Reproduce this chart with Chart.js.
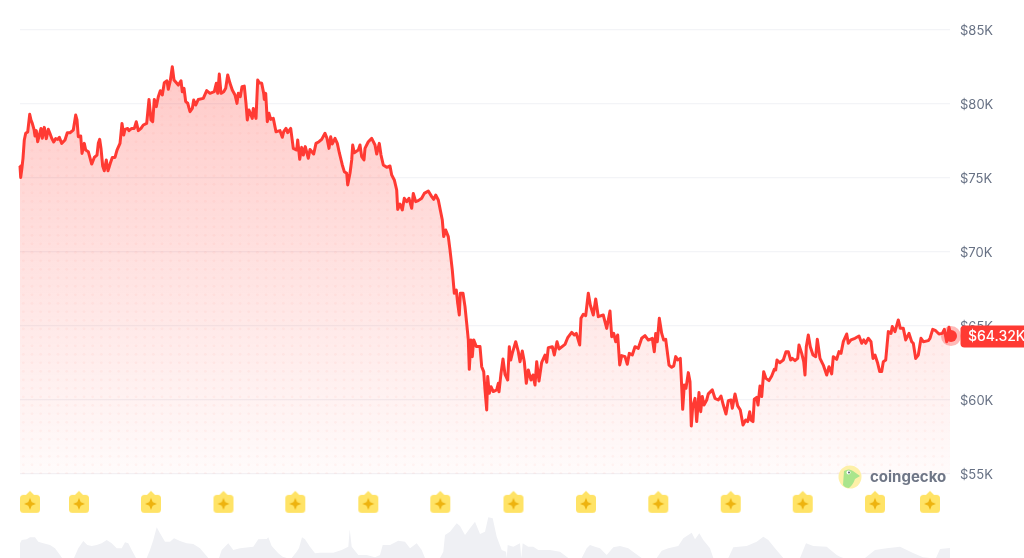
<!DOCTYPE html>
<html>
<head>
<meta charset="utf-8">
<style>html,body{margin:0;padding:0;background:#fff;overflow:hidden}canvas{display:block}</style>
<script src="https://cdn.jsdelivr.net/npm/chart.js@4"></script>
</head>
<body>
<canvas id="c" width="1024" height="558"></canvas>
<script>
const times = [
0,0.7,1.7,3,4.3,5.7,7.7,9.7,11,12.3,14,15,16.3,17.7,19.3,21,22.3,24.3,26.3,28.3,
29.7,31.7,33.7,35.7,37.7,39.3,41.7,45,47.3,50,53.3,55.7,57,58.3,60.7,62,64.3,65.7,68.3,71.7,
74.3,77,78.3,79.7,81,82.7,84.3,86.3,88,90.3,92.3,95,97,100,102,103.7,105,107.7,109,111.7,
114.3,116.3,118.3,121,123.3,126.7,129,131,132.7,134.3,136.3,138.3,140.3,142.3,144.3,147,148.3,150.3,152.3,154,158.3,
161,162.3,164,165.7,167.7,170,172.3,173.7,175.7,178.3,183.3,186.7,190,194.3,196.3,197.7,199.3,201,203.7,205.7,
207.7,210,212.3,215,217,218.3,220.3,222,224.3,226,227.3,229,232.3,233.3,236,237.7,239.3,241.7,243.7,244.3,
245.7,247.3,249,250.7,253.3,256,260,262.3,263.7,266,267.7,270.7,273.3,276.7,277.7,279.7,281.7,283.3,285.3,288.3,
290,293.7,296,299,301.7,305,307,309,310.7,312.3,315,317.3,319.3,
322.3,324.3,326.7,327.7,330,331.7,332.7,334.3,338.3,340,341.7,344,345,348.3,351.7,355,356.7,359.3,361,363.3,
366.7,370,371.7,374.3,376.7,377.7,380,382.3,384.3,386.7,389,391.7,393.3,395.7,398.3,401.7,404.3,408.3,411.7,413.7,
415.7,418.3,420.3,422.3,423.7,425.7,428.3,430,432.3,434.3,436.3,437.7,439.3,440.3,443,445,446.7,448.3,449.3,451,
452.3,453.7,456.3,460,461.7,463.7,465,466.7,467.7,469.3,471,473.3,476.7,478.3,479,
481,483,485,487.7,489.3,490.7,492.3,495.7,498.3,500,502.3,504.3,506.3,508.3,511,513,515,516.7,519,521.7,
525,526.7,528.3,532.3,534.3,537,539,545,547.7,551.7,554.3,556.3,559.7,561,563.3,565.7,568.3,570.3,573.3,575.7,
578.3,583.3,586.7,590,591.7,593.7,595.7,597.7,599.7,601.7,605,607.3,609.3,612.3,615,618.3,621.7,625,628.3,632.3,
634.3,635.7,637.3,639.3,
641.7,643.7,645.7,647.3,649,651.7,653.7,655.7,657.7,660.3,661.7,662.7,664.3,666,668.3,670,671.3,672.7,675,676.7,
679,680.7,682.3,684,686.7,688.3,692.3,695,698.3,701,703.3,706,708.3,711,712.3,715,717.7,720.3,723,725.7,
727.7,729.7,731,733,734.3,736.7,738,740,741.7,743.7,746,749,751.7,754.3,755.7,757,759.7,763.3,766,768.3,
770.7,772.3,775,777.7,779,781.7,783.7,785,786.3,788.3,790.3,793,795.7,797.3,
800,803.3,806.7,809,811.7,813.3,816.7,819,821,823.3,826.7,828.3,831,835,839,841.7,843.7,845.7,848.3,851,
853,855,857.7,859.7,861.7,863.3,865.7,868.3,871,872.3,875,878.3,880.3,883.3,885.7,889,891.7,893.3,895.7,898.3,
901,903.3,908.3,910,912.7,915.7,919,922.3,924.3,926.7,929,931
];
const prices = [
75.81,75.04,75.54,76.33,77.57,78.02,78.11,79.30,78.92,78.69,78.29,77.84,78.20,77.45,77.90,78.35,77.68,78.42,77.66,78.29,
78.06,77.68,77.43,77.66,77.61,77.75,77.34,77.57,78.06,78.06,78.24,79.25,78.92,77.79,77.84,76.66,77.34,76.89,76.78,75.94,
76.39,76.55,77.34,77.61,77.00,75.81,75.49,76.21,75.49,75.99,76.39,76.39,76.89,77.34,78.69,77.90,78.29,78.35,78.20,78.35,
78.35,78.80,78.20,78.35,78.58,78.69,80.31,78.92,78.80,80.31,79.82,80.49,80.90,80.61,81.44,81.57,80.99,81.57,82.52,81.62,81.28,
81.57,80.83,81.06,80.16,80.05,79.48,79.70,80.27,79.93,80.31,80.38,80.90,80.72,80.83,81.40,80.72,82.02,80.72,80.83,81.06,
81.96,81.40,80.94,80.61,80.04,80.72,80.49,81.17,81.21,80.04,78.92,79.59,79.03,79.70,79.03,81.62,81.44,81.40,80.72,80.31,
80.72,78.80,79.37,78.96,79.03,78.13,78.20,77.75,78.13,78.35,78.06,78.35,77.00,76.89,77.57,76.26,77.07,76.55,77.12,76.33,
76.93,76.62,77.34,77.45,77.61,78.02,77.68,77.00,77.79,77.30,77.68,77.34,76.71,
75.88,75.43,75.32,74.53,75.32,76.22,77.23,76.71,76.89,77.23,76.44,76.22,77.00,77.45,77.68,77.23,76.62,77.34,76.55,75.88,
75.72,75.81,75.20,74.87,74.19,72.88,73.24,72.84,73.63,73.40,73.63,72.95,73.96,73.40,73.47,73.63,73.96,74.12,73.74,73.56,
73.85,73.51,72.84,72.16,71.04,71.49,71.04,70.14,68.78,67.21,67.43,66.53,65.74,67.21,67.21,66.31,65.18,64.06,62.07,64.06,
62.93,64.06,63.61,63.61,62.25,61.92,60.68,59.33,61.58,60.45,60.90,60.57,60.68,61.13,60.55,
61.80,62.77,61.73,61.35,63.60,62.70,63.15,63.94,63.26,62.59,63.31,62.59,61.13,62.03,61.35,61.69,61.01,62.59,61.28,62.55,
63.04,62.55,63.54,63.60,63.04,63.94,63.45,63.76,64.21,64.57,64.39,64.50,63.72,65.52,65.79,65.70,67.21,66.42,65.74,66.82,
65.63,65.74,64.84,66.01,64.28,64.50,63.94,64.39,62.37,63.00,62.93,62.41,63.15,63.04,63.60,63.49,64.17,64.35,64.05,64.17,
63.26,64.50,63.94,65.52,
64.50,64.05,64.10,63.26,62.36,62.21,62.30,62.93,62.70,62.81,60.90,59.37,61.01,60.79,61.85,61.24,58.24,59.55,60.11,58.54,
60.50,59.21,60.23,59.66,60.00,60.41,60.68,60.11,60.00,60.27,59.66,59.05,59.95,60.00,59.44,60.41,59.60,59.32,58.31,58.65,
58.54,59.21,58.65,58.54,60.05,60.18,59.66,60.95,60.23,61.91,61.46,61.31,61.62,62.07,62.03,62.70,62.52,62.70,63.26,63.26,
62.70,62.81,62.66,62.81,63.72,63.15,62.59,61.69,63.60,64.39,63.60,63.04,62.93,64.10,
62.81,62.36,61.69,62.25,61.76,62.93,62.75,63.27,63.15,63.94,64.46,63.83,64.06,64.17,64.32,63.83,64.06,63.83,64.17,63.94,
62.81,63.04,62.48,61.92,61.92,62.59,62.70,64.62,64.50,64.96,64.62,65.41,64.84,64.84,64.06,64.50,63.94,63.83,62.81,63.04,
64.17,63.94,64.01,64.17,64.77,64.68,64.46,64.50,64.77,63.94,64.91,64.32
];
const volumeTimes = [
0,1.7,6.7,10,15,18.3,23.3,30,35,40,42,54,58.3,63.3,67.3,71.7,76.7,81.7,86.7,91.7,
96.7,101.7,105,108.3,111.7,116,126.7,130,133.3,136.7,140,145,150,154,160,166.7,173.3,180,188.3,199,
201.7,208.3,213.3,220,233.3,238.3,246.7,248.3,251.7,258.3,262.7,266.7,271.7,276.7,279,282,285,290,295,300,
313.3,321.7,328.3,329.7,331.7,338.3,346.7,355,360,362.7,370,378.3,385,390,396.7,401.7,405,420,423.3,425,
430,436.7,440,445,450,455,460,465,468.3,472.7,476.7,481.7,486,486.7,487.7,493.3,500,501.3,502.7,508.3,
513.3,518.3,530,540,548.3,561.7,566.7,570,575,580,586.7,593.3,600,608.3,615,621.7,636.7,641.7,648.3,658.3,
663.3,671.7,675,679.3,683.3,690,693.3,708.3,713.3,726.7,736.7,743.3,748.3,755,763.3,780,786,793.3,806.7,816.7,
820,823.3,845,855,866.7,880,893,903,910,916,920,930
];
const volumes = [
14.7,18,18.7,20.7,20.7,16.3,14.7,13,9.7,3,0,0,9.7,17,13,12,13,14.7,18,14.7,
9.7,9.7,15.7,14.7,8,0,0,8,18,30.7,24.7,16.3,16.3,19.7,17,14.7,14,9.7,0,0,
8,14.7,8,9.7,11.3,18.7,19,20.7,12,4.7,1.3,0,0,6.3,10,20.7,18.7,11.3,4.7,5.3,
5.3,8,11.3,28.7,11.3,3,3,0.7,3,13,13,17.3,16.3,9.7,14.7,8,0,0,6.3,23,
26.3,34.7,32,23,29.7,36.3,24,26.3,40.7,39.7,21.3,8,6.3,0,13,11.3,14.7,0,14.7,11.3,
11.3,8,8,6.3,0,0,9.7,13,11.3,9.7,3,10.7,12,9.7,4.7,0,0,7.3,9.7,12,
19.7,25.3,18.7,24.7,18,9.7,0,0,10.7,12,16.3,21.3,18,9.7,0,0,14.7,12,11.3,3,
1.3,0,0,8,9.7,11.3,5,0.7,0,0,9,10
];
const rewardTimes = [10,59,131,203.5,275.3,348.3,420.3,493.5,566,638.3,710.7,782.7,855,910];
const rewardLevel = 53.12;
const tickValues = [55,60,65,70,75,80,85];
const lastPriceLabel = "$64.32K";
const brandLabel = "coingecko";

const RED = "#ff3a33";

function fillPattern() {
  const cv = document.createElement("canvas");
  cv.width = 1024; cv.height = 558;
  const g = cv.getContext("2d");
  const gr = g.createLinearGradient(0, 67, 0, 474);
  gr.addColorStop(0, "rgba(255,58,51,0.27)");
  gr.addColorStop(1, "rgba(255,58,51,0.02)");
  g.fillStyle = gr;
  g.fillRect(0, 0, 1024, 558);
  g.fillStyle = "rgba(255,58,51,0.045)";
  for (let r = 473.3; r > 0; r -= 8.5) {
    for (let q = 23.3; q < 1000; q += 8.67) {
      g.beginPath(); g.arc(q, r, 1.4, 0, Math.PI * 2); g.fill();
    }
  }
  return g.createPattern(cv, "repeat");
}

function badgeImage() {
  const cv = document.createElement("canvas");
  cv.width = 22; cv.height = 24;
  const g = cv.getContext("2d");
  g.fillStyle = "#ffe366";
  g.beginPath();
  g.roundRect(1, 5, 20, 18, 3.5);
  g.fill();
  g.beginPath();
  g.moveTo(6, 6); g.lineTo(11, 1); g.lineTo(16, 6); g.closePath();
  g.fill();
  g.fillStyle = "#eeb30f";
  const cx = 11, cy = 14, a = 6, b = 1.7;
  g.beginPath();
  g.moveTo(cx, cy - a); g.lineTo(cx + b, cy - b); g.lineTo(cx + a, cy);
  g.lineTo(cx + b, cy + b); g.lineTo(cx, cy + a); g.lineTo(cx - b, cy + b);
  g.lineTo(cx - a, cy); g.lineTo(cx - b, cy - b); g.closePath();
  g.fill();
  return cv;
}

const overlays = {
  id: "overlays",
  afterDraw(chart) {
    const { ctx, scales } = chart;
    const py = scales.y.getPixelForValue(prices[prices.length - 1]);
    ctx.save();
    ctx.fillStyle = RED;
    ctx.beginPath();
    ctx.roundRect(960.5, py - 10.5, 70, 22, 4);
    ctx.fill();
    ctx.fillStyle = "#fff";
    ctx.font = "500 14px Inter";
    ctx.textBaseline = "middle";
    ctx.textAlign = "left";
    ctx.fillText(lastPriceLabel, 968, py + 1);

    const lx = 850, ly = 477;
    ctx.fillStyle = "#fdf0a8";
    ctx.beginPath(); ctx.arc(lx, ly, 11.5, 0, Math.PI * 2); ctx.fill();
    ctx.fillStyle = "#a9e58c";
    ctx.beginPath();
    ctx.moveTo(lx - 7, ly + 8);
    ctx.lineTo(lx - 6, ly - 6);
    ctx.quadraticCurveTo(lx - 1, ly - 9, lx + 3, ly - 6);
    ctx.lineTo(lx + 10, ly - 1);
    ctx.lineTo(lx + 5, ly + 2);
    ctx.quadraticCurveTo(lx + 3, ly + 8, lx - 1, ly + 11);
    ctx.quadraticCurveTo(lx - 5, ly + 11, lx - 7, ly + 8);
    ctx.fill();
    ctx.fillStyle = "#fff";
    ctx.beginPath(); ctx.arc(lx - 1.5, ly - 4.5, 2, 0, Math.PI * 2); ctx.fill();
    ctx.fillStyle = "#55606f";
    ctx.beginPath(); ctx.arc(lx - 1, ly - 4.5, 1, 0, Math.PI * 2); ctx.fill();
    ctx.fillStyle = "#6f7686";
    ctx.font = "700 15px Inter";
    ctx.fillText(brandLabel, 870, ly);
    ctx.restore();
  }
};

new Chart(document.getElementById("c"), {
  type: "line",
  data: {
    datasets: [
      {
        label: "Volume",
        data: volumeTimes.map((t, i) => ({ x: t, y: volumes[i] })),
        yAxisID: "v",
        borderWidth: 0,
        pointRadius: 0,
        backgroundColor: "#eff0f4",
        fill: "origin",
        order: 3
      },
      {
        label: "Price",
        data: times.map((t, i) => ({ x: t, y: prices[i] })),
        yAxisID: "y",
        borderColor: RED,
        borderWidth: 3,
        borderJoinStyle: "round",
        backgroundColor: fillPattern(),
        fill: { value: 55 },
        tension: 0,
        clip: false,
        pointRadius: c => (c.dataIndex === times.length - 1 ? 6 : 0),
        pointBackgroundColor: RED,
        pointBorderColor: "rgba(255,58,51,0.35)",
        pointBorderWidth: c => (c.dataIndex === times.length - 1 ? 8 : 0),
        order: 1
      },
      {
        label: "Rewards",
        data: rewardTimes.map(t => ({ x: t, y: rewardLevel })),
        yAxisID: "y",
        showLine: false,
        pointStyle: badgeImage(),
        pointRadius: 11,
        order: 2
      }
    ]
  },
  options: {
    responsive: false,
    animation: false,
    devicePixelRatio: 1,
    layout: { autoPadding: false, padding: { left: 20, right: 0, top: 0, bottom: 0 } },
    plugins: { legend: { display: false }, tooltip: { enabled: false } },
    events: [],
    scales: {
      x: { type: "linear", display: false, min: 0, max: 930 },
      v: { display: false, min: 0, max: 558 },
      y: {
        position: "right",
        min: 49.324,
        max: 87.027,
        afterBuildTicks: s => { s.ticks = tickValues.map(v => ({ value: v })); },
        afterFit: s => { s.width = 74; s.paddingTop = 0; s.paddingBottom = 0; },
        border: { display: false },
        grid: { color: "#f3f4f7", lineWidth: 1.2, drawTicks: false },
        ticks: {
          padding: 10,
          labelOffset: 1,
          color: "#677184",
          font: { family: "Inter", size: 13 },
          callback: v => "$" + v + "K"
        }
      }
    }
  },
  plugins: [overlays]
});
</script>
</body>
</html>
